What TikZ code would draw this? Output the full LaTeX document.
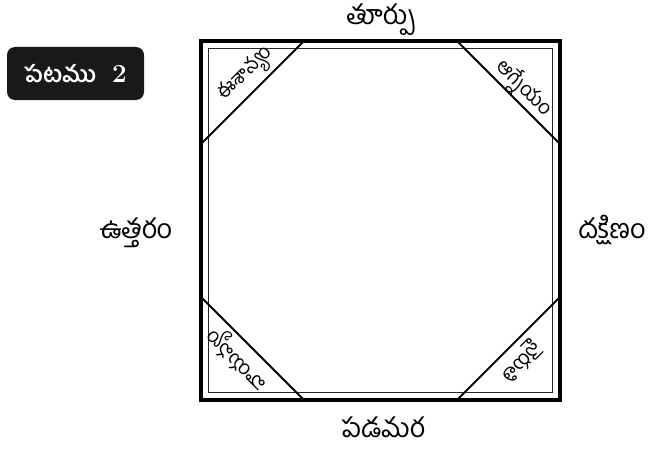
\documentclass[tikz,border=0pt]{standalone}
\usepackage{fontspec}
\newfontfamily\tel[Script=Telugu]{Hind Guntur}
\tikzset{
  outer/.style={line width=4.6pt, line join=miter},
  innerline/.style={line width=0.9pt, draw=black!85},
  cut/.style={line width=1.9pt},
  dirlabel/.style={font=\tel\fontsize{27}{30}\selectfont, inner sep=0pt, anchor=base},
  cornerlabel/.style={font=\tel\fontsize{20}{22}\selectfont, inner sep=0pt},
  figbox/.style={fill=black!90, rounded corners=8pt, minimum width=137pt, minimum height=53pt, inner sep=0pt, text=white}
}
\begin{document}
\begin{tikzpicture}[x=1pt,y=-1pt]
\useasboundingbox (0,0) rectangle (655,452);
% outer square
\coordinate (A) at (201,41);
\coordinate (B) at (560,41);
\coordinate (C) at (560,400);
\coordinate (D) at (201,400);
\draw[outer] (A) -- (B) -- (C) -- (D) -- cycle;
% inner thin square
\coordinate (a) at (208.5,48.5);
\coordinate (c) at (552.5,392.5);
\draw[innerline] (a) rectangle (c);
% corner cuts
\coordinate (tl1) at (201,144);
\coordinate (tl2) at (304,41);
\coordinate (tr1) at (457,41);
\coordinate (tr2) at (560,144);
\coordinate (bl1) at (201,297);
\coordinate (bl2) at (304,400);
\coordinate (br1) at (457,400);
\coordinate (br2) at (560,297);
\draw[cut] (tl1) -- (tl2);
\draw[cut] (tr1) -- (tr2);
\draw[cut] (bl1) -- (bl2);
\draw[cut] (br1) -- (br2);
% direction labels
\node[dirlabel] (east) at (381,25) {తూర్పు};
\node[dirlabel, text depth=1pt] (west) at (383,437) {పడమర};
\node[dirlabel] (north) at (136,238) {ఉత్తరం};
\node[dirlabel] (south) at (612,238) {దక్షిణం};
% corner labels
\node[cornerlabel, rotate=45] (ne) at (247,75) {ఈశాన్యం};
\node[cornerlabel, rotate=-45] (se) at (523,89) {ఆగ్నేయం};
\node[cornerlabel, rotate=135] (nw) at (238,358) {వాయవ్యం};
\node[cornerlabel, rotate=225] (sw) at (521,361) {నైరుతి};
% figure box
\node[figbox] (fig) at (75.5,73.5) {{\tel\bfseries\fontsize{23}{25}\selectfont పటము}\hspace{16pt}{\bfseries\fontsize{26}{28}\selectfont 2}};
\end{tikzpicture}
\end{document}
